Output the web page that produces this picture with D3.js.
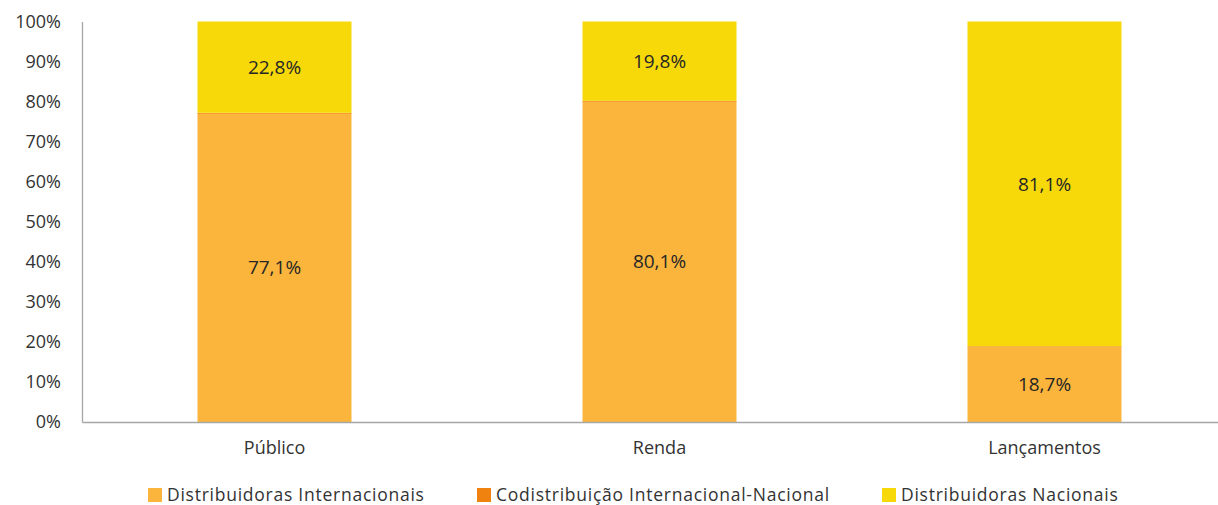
<!DOCTYPE html>
<html>
<head>
<meta charset="utf-8">
<script src="https://cdn.jsdelivr.net/npm/d3@7"></script>
<style>
body { margin: 0; background: #fff; }
svg { display: block; font-family: "Open Sans", "Noto Sans", sans-serif; }
</style>
</head>
<body>
<div id="chart"></div>
<script>
var categories = ["Público", "Renda", "Lançamentos"];
var seriesNames = ["Distribuidoras Internacionais", "Codistribuição Internacional-Nacional", "Distribuidoras Nacionais"];
var internacionais = [77.1, 80.1, 18.7];
var codistribuicao = [0.1, 0.1, 0.2];
var nacionais = [22.8, 19.8, 81.1];
var yTicks = [0, 10, 20, 30, 40, 50, 60, 70, 80, 90, 100];
var colors = ["#FBB53C", "#F0820F", "#F7D90A"];

var width = 1218, height = 505;
var svg = d3.select("#chart").append("svg")
    .attr("width", width)
    .attr("height", height);

var table = categories.map(function (c, i) {
    return { cat: c, s0: internacionais[i], s1: codistribuicao[i], s2: nacionais[i] };
});
var stack = d3.stack().keys(["s0", "s1", "s2"]);
var layers = stack(table);

var x = d3.scaleBand().domain(categories).range([82, 1237]).paddingInner(0.6).paddingOuter(0.3);
var y = d3.scaleLinear().domain([0, 100]).range([422, 21.5]);

// bars
svg.selectAll("g.layer").data(layers).enter().append("g")
    .attr("class", "layer")
    .attr("fill", function (d, i) { return colors[i]; })
    .selectAll("rect").data(function (d) { return d; }).enter().append("rect")
    .attr("x", function (d) { return x(d.data.cat); })
    .attr("width", x.bandwidth())
    .attr("y", function (d) { return y(d[1]); })
    .attr("height", function (d) { return Math.max(y(d[0]) - y(d[1]), 0.8); });

// value labels
layers.forEach(function (layer) {
    svg.selectAll(null).data(layer.filter(function (d) { return d[1] - d[0] >= 1; }))
        .enter().append("text")
        .attr("x", function (d) { return x(d.data.cat) + x.bandwidth() / 2; })
        .attr("y", function (d) { return (y(d[0]) + y(d[1])) / 2; })
        .attr("dy", "0.35em")
        .attr("text-anchor", "middle")
        .attr("font-size", 19)
        .attr("fill", "#262626")
        .text(function (d) { return (d[1] - d[0]).toFixed(1).replace(".", ",") + "%"; });
});

// y axis
var yAxis = svg.append("g")
    .attr("transform", "translate(82,0)")
    .call(d3.axisLeft(y).tickValues(yTicks).tickSize(0).tickPadding(21)
        .tickFormat(function (d) { return d + "%"; }));
yAxis.select(".domain").attr("stroke", "#a6a6a6").attr("stroke-width", 1.3);
yAxis.selectAll("text").attr("font-size", 18).attr("fill", "#333").attr("font-family", "Open Sans, sans-serif");

// x axis
var xAxis = svg.append("g")
    .attr("transform", "translate(0,422)")
    .call(d3.axisBottom(x).tickSize(0).tickPadding(19));
xAxis.select(".domain").attr("stroke", "#a6a6a6").attr("stroke-width", 1.3);
xAxis.selectAll("text").attr("font-size", 18).attr("fill", "#333").attr("font-family", "Open Sans, sans-serif");

// legend
var legendX = [148, 477, 882];
var legend = svg.selectAll("g.legend").data(seriesNames).enter().append("g")
    .attr("class", "legend")
    .attr("transform", function (d, i) { return "translate(" + legendX[i] + ",495)"; });
legend.append("rect")
    .attr("x", 0).attr("y", -7).attr("width", 14).attr("height", 14)
    .attr("fill", function (d, i) { return colors[i]; });
legend.append("text")
    .attr("x", 19).attr("dy", "0.35em")
    .attr("font-size", 17.5)
    .attr("letter-spacing", 0.75)
    .attr("fill", "#333")
    .text(function (d) { return d; });
</script>
</body>
</html>
